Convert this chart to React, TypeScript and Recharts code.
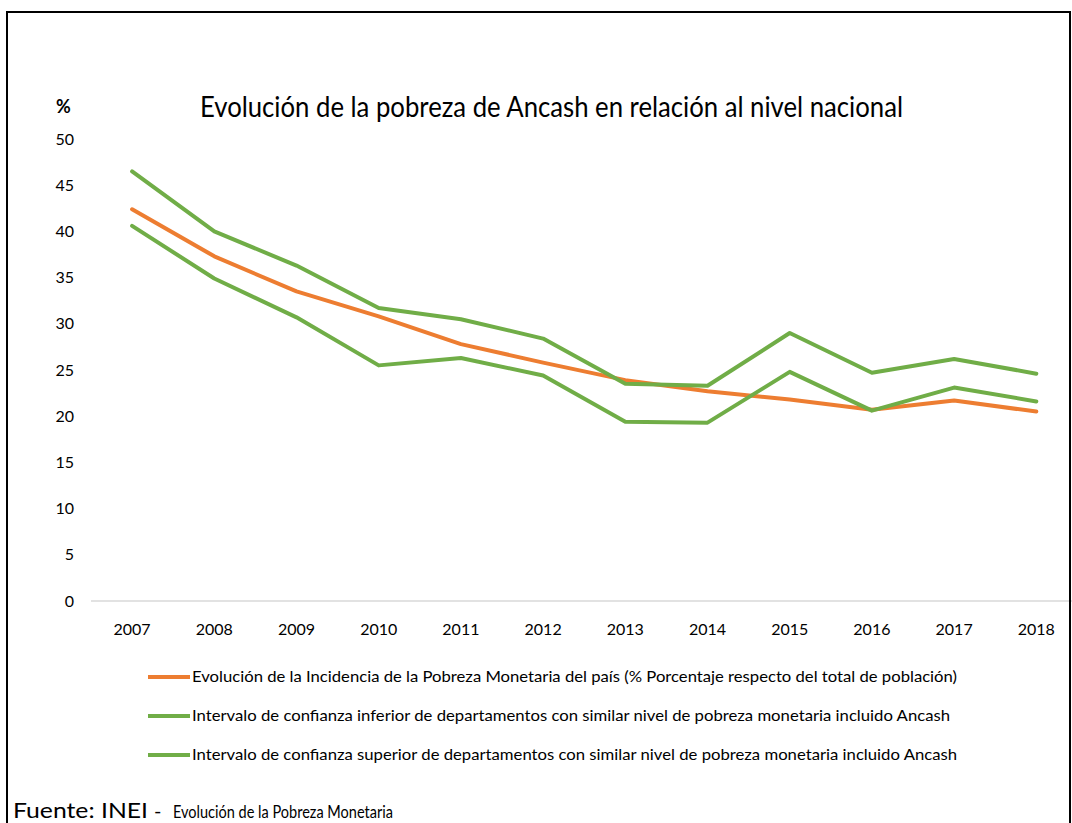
import React from 'react';
import { LineChart, Line, XAxis, YAxis, Legend } from 'recharts';

const years = [2007, 2008, 2009, 2010, 2011, 2012, 2013, 2014, 2015, 2016, 2017, 2018];
const nacional = [42.4, 37.3, 33.5, 30.8, 27.8, 25.8, 23.9, 22.7, 21.8, 20.7, 21.7, 20.5];
const inferior = [40.6, 34.9, 30.7, 25.5, 26.3, 24.4, 19.4, 19.3, 24.8, 20.6, 23.1, 21.6];
const superior = [46.5, 40.0, 36.3, 31.7, 30.5, 28.4, 23.5, 23.3, 29.0, 24.7, 26.2, 24.6];
const yTicks = [0, 5, 10, 15, 20, 25, 30, 35, 40, 45, 50];

const seriesNames = [
  'Evolución de la Incidencia de la Pobreza Monetaria del país (% Porcentaje respecto del total de población)',
  'Intervalo de confianza inferior de departamentos con similar nivel de pobreza monetaria incluido Ancash',
  'Intervalo de confianza superior de departamentos con similar nivel de pobreza monetaria incluido Ancash',
];

const ORANGE = '#ED7D31';
const GREEN = '#70AD47';
const FONT = 'Lato, "Open Sans", sans-serif';

const data = years.map((year, i) => ({
  year,
  nacional: nacional[i],
  inferior: inferior[i],
  superior: superior[i],
}));

const legendWidths = [765, 758, 765];

const LegendBox = (props: any) => {
  const items = props.payload || [];
  return (
    <svg width={1072} height={120} style={{ display: 'block' }}>
      {items.map((item: any, i: number) => {
        const y = 22 + i * 39;
        return (
          <g key={item.value}>
            <line x1={148} x2={190} y1={y} y2={y} stroke={item.color} strokeWidth={4} />
            <text
              x={192}
              y={y + 5}
              fontSize={16}
              fontFamily={FONT}
              fill="#000"
              textLength={legendWidths[i]}
              lengthAdjust="spacingAndGlyphs"
            >
              {item.value}
            </text>
          </g>
        );
      })}
    </svg>
  );
};

const App = () => {
  return (
    <div
      style={{
        position: 'absolute',
        left: 0,
        top: 0,
        width: 1072,
        height: 823,
        background: '#fff',
        overflow: 'hidden',
        fontFamily: FONT,
      }}
    >
      <LineChart
        width={1072}
        height={823}
        data={data}
        margin={{ top: 139, right: 0, bottom: 192, left: 51 }}
      >
        <XAxis
          dataKey="year"
          type="number"
          domain={[2006.5, 2018.434]}
          ticks={years}
          allowDataOverflow
          axisLine={{ stroke: '#d9d9d9', strokeWidth: 1.5 }}
          tickLine={false}
          tickSize={0}
          tickMargin={23}
          height={30}
          tick={{ fontSize: 16, fill: '#000', fontFamily: FONT }}
        />
        <YAxis
          domain={[0, 50]}
          ticks={yTicks}
          axisLine={false}
          tickLine={false}
          tickSize={0}
          tickMargin={17}
          width={40}
          tick={{ fontSize: 16, fill: '#000', fontFamily: FONT }}
        />
        <Legend
          layout="vertical"
          align="center"
          verticalAlign="middle"
          content={<LegendBox />}
          wrapperStyle={{ top: 655, left: 0, width: 1072 }}
        />
        <Line
          dataKey="nacional"
          name={seriesNames[0]}
          stroke={ORANGE}
          strokeWidth={4}
          dot={false}
          strokeLinecap="round"
          strokeLinejoin="round"
          isAnimationActive={false}
        />
        <Line
          dataKey="inferior"
          name={seriesNames[1]}
          stroke={GREEN}
          strokeWidth={4}
          dot={false}
          strokeLinecap="round"
          strokeLinejoin="round"
          isAnimationActive={false}
        />
        <Line
          dataKey="superior"
          name={seriesNames[2]}
          stroke={GREEN}
          strokeWidth={4}
          dot={false}
          strokeLinecap="round"
          strokeLinejoin="round"
          isAnimationActive={false}
        />
      </LineChart>

      <svg
        width={1072}
        height={823}
        style={{ position: 'absolute', left: 0, top: 0, pointerEvents: 'none' }}
      >
        <path d="M7 823 V12 H1070 V823" fill="none" stroke="#000" strokeWidth={2} />
        <text
          x={200}
          y={117}
          fontSize={28}
          fontFamily={FONT}
          fill="#000"
          textLength={703}
          lengthAdjust="spacingAndGlyphs"
        >
          Evolución de la pobreza de Ancash en relación al nivel nacional
        </text>
        <text x={56} y={113} fontSize={18} fontWeight="bold" fontFamily={FONT} fill="#000">
          %
        </text>
        <text
          x={13}
          y={818}
          fontSize={22}
          fontFamily={FONT}
          fill="#000"
          textLength={135}
          lengthAdjust="spacingAndGlyphs"
        >
          Fuente: INEI
        </text>
        <text x={154} y={818} fontSize={20} fontFamily={FONT} fill="#000">
          -
        </text>
        <text
          x={173}
          y={818}
          fontSize={17}
          fontFamily={FONT}
          fill="#000"
          textLength={220}
          lengthAdjust="spacingAndGlyphs"
        >
          Evolución de la Pobreza Monetaria
        </text>
      </svg>
    </div>
  );
};

export default App;
